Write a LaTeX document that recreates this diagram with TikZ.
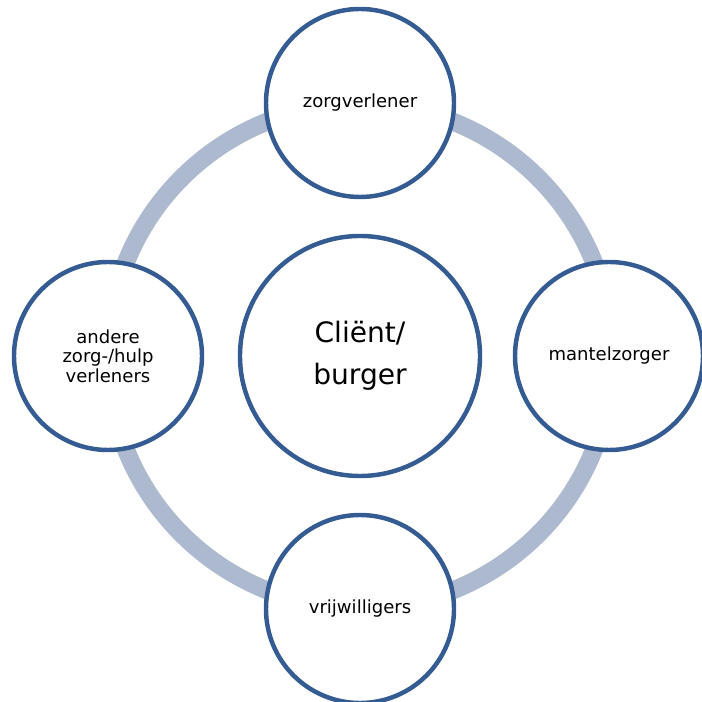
\documentclass[tikz,border=0pt]{standalone}
\usepackage{fontspec}
\setmainfont{DejaVu Sans}
\usepackage{tikz}

\definecolor{rand}{RGB}{52,91,146}
\definecolor{ring}{RGB}{173,185,207}

\begin{document}
\begin{tikzpicture}[x=0.03cm,y=0.03cm]
	\useasboundingbox (0,0) rectangle (701,702);
	
	\node[circle,minimum size=7.2cm,inner sep=0pt] (client) at (360,346) {};
	\draw[ring,line width=15.3pt] (client) circle[radius=252];
	
	\begin{scope}[every node/.style={circle,draw=rand,line width=3.8pt,fill=white,inner sep=0pt,align=center}]
	\node[minimum size=7.2cm,font=\fontsize{24}{35.5}\selectfont] at (client) {Cliënt/\\burger};
	\end{scope}
	
	\begin{scope}[every node/.style={circle,draw=rand,line width=3.8pt,fill=white,inner sep=0pt,align=center,minimum size=5.64cm,font=\fontsize{15.4}{16.8}\selectfont}]
	\node (zorg) at (360,599) {zorgverlener};
	\node (mantel) at (609,346) {mantelzorger};
	\node (vrijw) at (360,93) {vrijwilligers};
	\node (andere) at (108,346) {andere\\zorg-/hulp\\verleners};
	\end{scope}
\end{tikzpicture}
\end{document}
